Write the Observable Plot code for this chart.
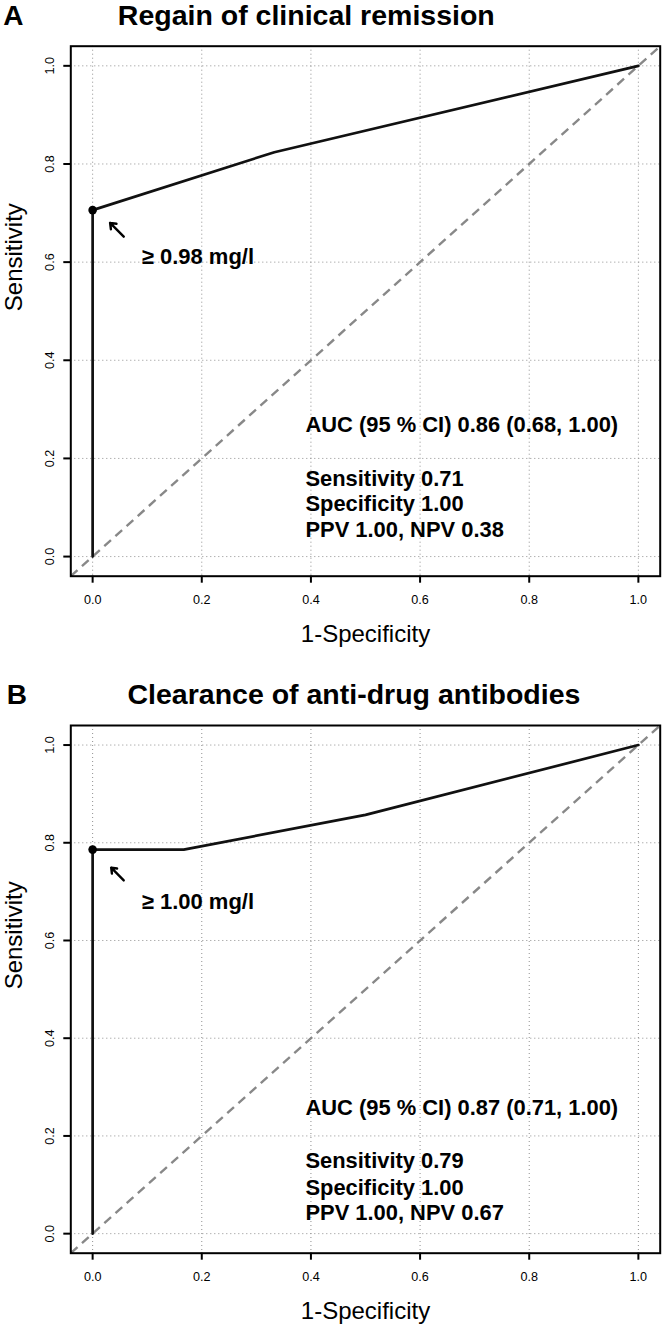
<!DOCTYPE html>
<html><head><meta charset="utf-8">
<script src="https://cdn.jsdelivr.net/npm/d3@7"></script>
<script src="https://cdn.jsdelivr.net/npm/@observablehq/plot@0.6"></script>
<style>
body{margin:0;background:#fff;}
#chart{width:663px;}
#chart svg{display:block;}
</style></head><body><div id="chart"></div>
<script>
// ---- shared axis data ----
const ticks = [0, 0.2, 0.4, 0.6, 0.8, 1.0];
const tickLabels = ["0.0", "0.2", "0.4", "0.6", "0.8", "1.0"];
const domain = [-0.04, 1.04];
const xLabel = "1-Specificity";
const yLabel = "Sensitivity";

// ---- Panel A ----
const letterA = "A";
const titleA = "Regain of clinical remission";
const fprA = [0, 0, 0.333, 1];
const tprA = [0, 0.706, 0.824, 1];
const cutoffA = [0, 0.706];
const cutoffLabelA = "≥ 0.98 mg/l";
const cutoffLabelPosA = [0.09, 0.596];
const arrowTailA = [0.057, 0.652];
const arrowHeadA = [0.032, 0.680];
const statsA = ["AUC (95 % CI) 0.86 (0.68, 1.00)", "Sensitivity 0.71", "Specificity 1.00", "PPV 1.00, NPV 0.38"];
const statsYA = [0.254, 0.143, 0.092, 0.039];
const statsXA = 0.39;

// ---- Panel B ----
const letterB = "B";
const titleB = "Clearance of anti-drug antibodies";
const fprB = [0, 0, 0.167, 0.5, 1];
const tprB = [0, 0.786, 0.786, 0.857, 1];
const cutoffB = [0, 0.786];
const cutoffLabelB = "≥ 1.00 mg/l";
const cutoffLabelPosB = [0.09, 0.664];
const arrowTailB = [0.057, 0.723];
const arrowHeadB = [0.034, 0.749];
const statsB = ["AUC (95 % CI) 0.87 (0.71, 1.00)", "Sensitivity 0.79", "Specificity 1.00", "PPV 1.00, NPV 0.67"];
const statsYB = [0.243, 0.134, 0.080, 0.027];
const statsXB = 0.39;

const FONT = "'Liberation Sans', Arial, Helvetica, sans-serif";
const ML = 70.3, MR = 3.3;

function panel(o) {
  const curve = d3.zip(o.fpr, o.tpr);
  const stats = o.stats.map((t, i) => ({t, x: o.statsX, y: o.statsY[i]}));
  const fmt = d => tickLabels[ticks.indexOf(d)];
  return Plot.plot({
    width: 663,
    height: o.height,
    marginTop: o.frameTop,
    marginBottom: o.height - o.frameBottom,
    marginLeft: ML,
    marginRight: MR,
    style: {fontFamily: FONT, background: "#fff", color: "#000", overflow: "visible"},
    x: {domain, label: null},
    y: {domain, label: null},
    marks: [
      Plot.gridX(ticks, {stroke: "#8f8f8f", strokeOpacity: 1, strokeWidth: 1, strokeDasharray: "1,3"}),
      Plot.gridY(ticks, {stroke: "#8f8f8f", strokeOpacity: 1, strokeWidth: 1, strokeDasharray: "1,3"}),
      Plot.link([domain], {x1: d => d[0], y1: d => d[0], x2: d => d[1], y2: d => d[1],
        stroke: "#888", strokeWidth: 2.4, strokeDasharray: "9,6"}),
      Plot.line(curve, {x: d => d[0], y: d => d[1], stroke: "#111", strokeWidth: 2.7}),
      Plot.dot([o.cutoff], {x: d => d[0], y: d => d[1], r: 4.3, fill: "#000", stroke: null}),
      Plot.arrow([[o.arrowTail, o.arrowHead]], {x1: d => d[0][0], y1: d => d[0][1], x2: d => d[1][0], y2: d => d[1][1],
        stroke: "#000", strokeWidth: 2.4, headLength: 9, headAngle: 75}),
      Plot.text([o.cutoffLabel], {x: () => o.cutoffLabelPos[0], y: () => o.cutoffLabelPos[1],
        textAnchor: "start", lineAnchor: "bottom", fontSize: 22, fontWeight: "bold", fill: "#000"}),
      Plot.text(stats, {x: "x", y: "y", text: "t", textAnchor: "start", lineAnchor: "bottom",
        fontSize: 21.9, fontWeight: "bold", fill: "#000"}),
      Plot.frame({stroke: "#000", strokeWidth: 2}),
      Plot.axisX(ticks, {tickFormat: fmt, tickSize: 7, tickPadding: 11.6, fontSize: 12.6, strokeWidth: 2, label: null}),
      Plot.axisY(ticks, {tickFormat: fmt, tickRotate: -90, tickSize: 7, tickPadding: 10, fontSize: 12.6, strokeWidth: 2, label: null}),
      Plot.text([xLabel], {frameAnchor: "bottom", dy: 65.3, lineAnchor: "bottom", fontSize: 24, fill: "#000"}),
      Plot.text([yLabel], {frameAnchor: "left", dx: 21 - ML, rotate: -90, lineAnchor: "bottom", fontSize: 24, fill: "#000"}),
      Plot.text([o.title], {frameAnchor: "top-left", dx: o.titleX - ML, dy: -21.7, textAnchor: "start",
        lineAnchor: "bottom", fontSize: 28.5, fontWeight: "bold", fill: "#000"}),
      Plot.text([o.letter], {frameAnchor: "top-left", dx: o.letterX - ML, dy: -21.7, textAnchor: "start",
        lineAnchor: "bottom", fontSize: 28, fontWeight: "bold", fill: "#000"})
    ]
  });
}

const chart = document.getElementById("chart");
chart.appendChild(panel({
  height: 678, frameTop: 45.7, frameBottom: 575.7,
  letter: letterA, letterX: 2.7, title: titleA, titleX: 117.3,
  fpr: fprA, tpr: tprA, cutoff: cutoffA, cutoffLabel: cutoffLabelA, cutoffLabelPos: cutoffLabelPosA,
  arrowTail: arrowTailA, arrowHead: arrowHeadA, stats: statsA, statsY: statsYA, statsX: statsXA
}));
chart.appendChild(panel({
  height: 649, frameTop: 47, frameBottom: 574.7,
  letter: letterB, letterX: 6.3, title: titleB, titleX: 127,
  fpr: fprB, tpr: tprB, cutoff: cutoffB, cutoffLabel: cutoffLabelB, cutoffLabelPos: cutoffLabelPosB,
  arrowTail: arrowTailB, arrowHead: arrowHeadB, stats: statsB, statsY: statsYB, statsX: statsXB
}));
</script></body></html>
